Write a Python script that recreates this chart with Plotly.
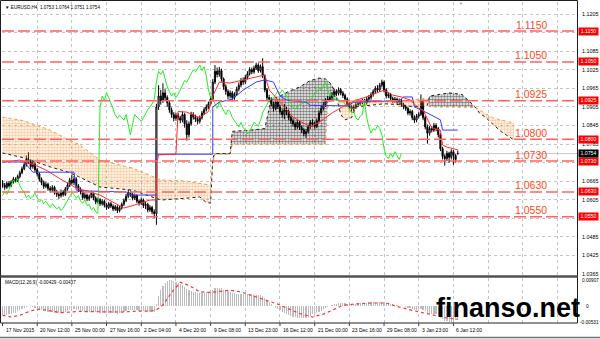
import plotly.graph_objects as go

W, H = 600, 339

# ---------------- data (EURUSD H4, bar 0 = 17 Nov 2015) ----------------
opens = [
    1.0660, 1.0652, 1.0645, 1.0658, 1.0650, 1.0662, 1.0671, 1.0666, 1.0680, 1.0692,
    1.0705, 1.0718, 1.0735, 1.0728, 1.0712, 1.0720, 1.0702, 1.0688, 1.0671, 1.0660,
    1.0648, 1.0655, 1.0641, 1.0636, 1.0645, 1.0630, 1.0622, 1.0618, 1.0630, 1.0622,
    1.0640, 1.0652, 1.0668, 1.0660, 1.0672, 1.0650, 1.0638, 1.0630, 1.0612, 1.0620,
    1.0608, 1.0615, 1.0626, 1.0610, 1.0598, 1.0605, 1.0592, 1.0600, 1.0588, 1.0580,
    1.0592, 1.0584, 1.0575, 1.0582, 1.0570, 1.0578, 1.0590, 1.0602, 1.0616, 1.0628,
    1.0622, 1.0610, 1.0618, 1.0600, 1.0594, 1.0604, 1.0586, 1.0590, 1.0572, 1.0580,
    1.0566, 1.0560, 1.0905, 1.0940, 1.0925, 1.0950, 1.0935, 1.0918, 1.0895, 1.0880,
    1.0868, 1.0878, 1.0870, 1.0862, 1.0880, 1.0850, 1.0815, 1.0850, 1.0880, 1.0872,
    1.0865, 1.0858, 1.0870, 1.0885, 1.0896, 1.0905, 1.0915, 1.0930, 1.0985, 1.1020,
    1.1010, 1.1022, 1.0995, 1.0970, 1.0955, 1.0940, 1.0950, 1.0935, 1.0945, 1.0962,
    1.0975, 1.0990, 1.0985, 1.1000, 1.1012, 1.1025, 1.1018, 1.1030, 1.1040, 1.1022,
    1.1035, 1.1005, 1.0960, 1.0935, 1.0930, 1.0915, 1.0900, 1.0920, 1.0905, 1.0890,
    1.0880, 1.0895, 1.0890, 1.0870, 1.0860, 1.0850, 1.0840, 1.0855, 1.0838, 1.0830,
    1.0818, 1.0825, 1.0840, 1.0855, 1.0850, 1.0842, 1.0860, 1.0885, 1.0900, 1.0912,
    1.0925, 1.0930, 1.0935, 1.0945, 1.0955, 1.0948, 1.0960, 1.0950, 1.0942, 1.0930,
    1.0915, 1.0905, 1.0898, 1.0905, 1.0912, 1.0915, 1.0920, 1.0925, 1.0918, 1.0930,
    1.0935, 1.0945, 1.0955, 1.0965, 1.0960, 1.0975, 1.0985, 1.0960, 1.0940, 1.0945,
    1.0932, 1.0925, 1.0930, 1.0920, 1.0925, 1.0912, 1.0905, 1.0900, 1.0885, 1.0890,
    1.0870, 1.0862, 1.0875, 1.0880, 1.0925, 1.0870, 1.0840, 1.0820, 1.0835, 1.0830,
    1.0845, 1.0835, 1.0815, 1.0770, 1.0745, 1.0738, 1.0755, 1.0742, 1.0760, 1.0748,
    1.0753,
]
highs = [
    1.0668, 1.0659, 1.0664, 1.0665, 1.0668, 1.0679, 1.0677, 1.0686, 1.0699, 1.0712,
    1.0726, 1.0748, 1.0758, 1.0736, 1.0730, 1.0726, 1.0708, 1.0694, 1.0677, 1.0667,
    1.0663, 1.0660, 1.0649, 1.0652, 1.0650, 1.0637, 1.0630, 1.0638, 1.0636, 1.0646,
    1.0660, 1.0676, 1.0686, 1.0682, 1.0678, 1.0656, 1.0645, 1.0636, 1.0628, 1.0625,
    1.0622, 1.0634, 1.0631, 1.0616, 1.0612, 1.0610, 1.0607, 1.0605, 1.0594, 1.0598,
    1.0598, 1.0590, 1.0588, 1.0587, 1.0585, 1.0596, 1.0609, 1.0624, 1.0638, 1.0635,
    1.0628, 1.0625, 1.0623, 1.0606, 1.0612, 1.0609, 1.0598, 1.0595, 1.0588, 1.0585,
    1.0574, 1.0915, 1.0975, 1.0960, 1.0981, 1.0962, 1.0942, 1.0925, 1.0903, 1.0888,
    1.0886, 1.0885, 1.0876, 1.0890, 1.0885, 1.0862, 1.0858, 1.0889, 1.0888, 1.0880,
    1.0872, 1.0877, 1.0892, 1.0904, 1.0913, 1.0922, 1.0940, 1.0995, 1.1040, 1.1032,
    1.1034, 1.1028, 1.1000, 1.0978, 1.0962, 1.0958, 1.0956, 1.0952, 1.0970, 1.0984,
    1.0998, 1.1000, 1.1008, 1.1020, 1.1033, 1.1032, 1.1038, 1.1048, 1.1046, 1.1042,
    1.1062, 1.1010, 1.0966, 1.0944, 1.0936, 1.0922, 1.0928, 1.0926, 1.0912, 1.0897,
    1.0915, 1.0905, 1.0896, 1.0877, 1.0868, 1.0857, 1.0862, 1.0860, 1.0845, 1.0836,
    1.0833, 1.0848, 1.0862, 1.0865, 1.0858, 1.0868, 1.0893, 1.0908, 1.0920, 1.0933,
    1.0940, 1.0944, 1.0953, 1.0963, 1.0962, 1.0968, 1.0966, 1.0956, 1.0948, 1.0936,
    1.0921, 1.0912, 1.0912, 1.0920, 1.0922, 1.0928, 1.0932, 1.0931, 1.0937, 1.0943,
    1.0952, 1.0962, 1.0972, 1.0975, 1.0982, 1.0993, 1.0990, 1.0965, 1.0953, 1.0950,
    1.0938, 1.0937, 1.0935, 1.0932, 1.0930, 1.0918, 1.0912, 1.0906, 1.0897, 1.0895,
    1.0878, 1.0882, 1.0888, 1.0945, 1.0932, 1.0876, 1.0848, 1.0843, 1.0842, 1.0853,
    1.0852, 1.0840, 1.0820, 1.0776, 1.0752, 1.0763, 1.0760, 1.0768, 1.0766, 1.0753,
    1.0764,
]
lows = [
    1.0644, 1.0637, 1.0640, 1.0644, 1.0646, 1.0657, 1.0660, 1.0662, 1.0674, 1.0687,
    1.0700, 1.0712, 1.0720, 1.0704, 1.0705, 1.0695, 1.0680, 1.0664, 1.0652, 1.0640,
    1.0642, 1.0634, 1.0628, 1.0630, 1.0622, 1.0614, 1.0608, 1.0612, 1.0615, 1.0617,
    1.0634, 1.0646, 1.0654, 1.0652, 1.0643, 1.0630, 1.0622, 1.0605, 1.0606, 1.0600,
    1.0601, 1.0610, 1.0603, 1.0590, 1.0592, 1.0585, 1.0586, 1.0580, 1.0572, 1.0575,
    1.0578, 1.0568, 1.0569, 1.0562, 1.0564, 1.0573, 1.0585, 1.0597, 1.0610, 1.0614,
    1.0603, 1.0604, 1.0594, 1.0586, 1.0588, 1.0578, 1.0575, 1.0564, 1.0566, 1.0558,
    1.0545, 1.0524, 1.0895, 1.0912, 1.0918, 1.0925, 1.0905, 1.0886, 1.0870, 1.0858,
    1.0860, 1.0862, 1.0852, 1.0855, 1.0838, 1.0796, 1.0806, 1.0844, 1.0864, 1.0856,
    1.0848, 1.0851, 1.0864, 1.0878, 1.0890, 1.0898, 1.0910, 1.0925, 1.0978, 1.1000,
    1.1002, 1.0986, 1.0960, 1.0944, 1.0930, 1.0932, 1.0926, 1.0928, 1.0940, 1.0955,
    1.0968, 1.0976, 1.0978, 1.0994, 1.1006, 1.1010, 1.1012, 1.1024, 1.1015, 1.1016,
    1.0998, 1.0952, 1.0926, 1.0920, 1.0906, 1.0890, 1.0894, 1.0898, 1.0880, 1.0870,
    1.0865, 1.0878, 1.0862, 1.0850, 1.0842, 1.0830, 1.0834, 1.0830, 1.0820, 1.0810,
    1.0805, 1.0818, 1.0834, 1.0842, 1.0835, 1.0836, 1.0855, 1.0878, 1.0893, 1.0905,
    1.0918, 1.0922, 1.0928, 1.0938, 1.0940, 1.0942, 1.0942, 1.0934, 1.0922, 1.0907,
    1.0896, 1.0888, 1.0890, 1.0898, 1.0905, 1.0908, 1.0913, 1.0910, 1.0912, 1.0923,
    1.0928, 1.0938, 1.0948, 1.0952, 1.0954, 1.0968, 1.0952, 1.0932, 1.0933, 1.0925,
    1.0917, 1.0918, 1.0912, 1.0913, 1.0905, 1.0897, 1.0892, 1.0878, 1.0877, 1.0862,
    1.0853, 1.0855, 1.0868, 1.0876, 1.0862, 1.0832, 1.0786, 1.0812, 1.0822, 1.0824,
    1.0826, 1.0806, 1.0762, 1.0735, 1.0715, 1.0730, 1.0724, 1.0735, 1.0718, 1.0725,
    1.0751,
]
closes = [
    1.0652, 1.0645, 1.0658, 1.0650, 1.0662, 1.0671, 1.0666, 1.0680, 1.0692, 1.0705,
    1.0718, 1.0735, 1.0728, 1.0712, 1.0720, 1.0702, 1.0688, 1.0671, 1.0660, 1.0648,
    1.0655, 1.0641, 1.0636, 1.0645, 1.0630, 1.0622, 1.0618, 1.0630, 1.0622, 1.0640,
    1.0652, 1.0668, 1.0660, 1.0672, 1.0650, 1.0638, 1.0630, 1.0612, 1.0620, 1.0608,
    1.0615, 1.0626, 1.0610, 1.0598, 1.0605, 1.0592, 1.0600, 1.0588, 1.0580, 1.0592,
    1.0584, 1.0575, 1.0582, 1.0570, 1.0578, 1.0590, 1.0602, 1.0616, 1.0628, 1.0622,
    1.0610, 1.0618, 1.0600, 1.0594, 1.0604, 1.0586, 1.0590, 1.0572, 1.0580, 1.0566,
    1.0560, 1.0905, 1.0940, 1.0925, 1.0950, 1.0935, 1.0918, 1.0895, 1.0880, 1.0868,
    1.0878, 1.0870, 1.0862, 1.0880, 1.0850, 1.0815, 1.0850, 1.0880, 1.0872, 1.0865,
    1.0858, 1.0870, 1.0885, 1.0896, 1.0905, 1.0915, 1.0930, 1.0985, 1.1020, 1.1010,
    1.1022, 1.0995, 1.0970, 1.0955, 1.0940, 1.0950, 1.0935, 1.0945, 1.0962, 1.0975,
    1.0990, 1.0985, 1.1000, 1.1012, 1.1025, 1.1018, 1.1030, 1.1040, 1.1022, 1.1035,
    1.1005, 1.0960, 1.0935, 1.0930, 1.0915, 1.0900, 1.0920, 1.0905, 1.0890, 1.0880,
    1.0895, 1.0890, 1.0870, 1.0860, 1.0850, 1.0840, 1.0855, 1.0838, 1.0830, 1.0818,
    1.0825, 1.0840, 1.0855, 1.0850, 1.0842, 1.0860, 1.0885, 1.0900, 1.0912, 1.0925,
    1.0930, 1.0935, 1.0945, 1.0955, 1.0948, 1.0960, 1.0950, 1.0942, 1.0930, 1.0915,
    1.0905, 1.0898, 1.0905, 1.0912, 1.0915, 1.0920, 1.0925, 1.0918, 1.0930, 1.0935,
    1.0945, 1.0955, 1.0965, 1.0960, 1.0975, 1.0985, 1.0960, 1.0940, 1.0945, 1.0932,
    1.0925, 1.0930, 1.0920, 1.0925, 1.0912, 1.0905, 1.0900, 1.0885, 1.0890, 1.0870,
    1.0862, 1.0875, 1.0880, 1.0925, 1.0870, 1.0840, 1.0820, 1.0835, 1.0830, 1.0845,
    1.0835, 1.0815, 1.0770, 1.0745, 1.0738, 1.0755, 1.0742, 1.0760, 1.0748, 1.0735,
    1.0754,
]
bars = list(range(len(closes)))

# Ichimoku lines (bar index, price)
tenkan_idx = [0, 8, 15, 20, 26, 34, 45, 50, 56, 61, 68, 71, 71, 72, 80, 81, 85, 91, 95, 97,
              100, 105, 111, 117, 121, 123, 127, 131, 134, 142, 146, 152, 158, 163, 167, 176,
              180, 184, 188, 192, 194, 198, 202, 203, 205, 210]
tenkan_val = [1.0727, 1.0733, 1.0717, 1.0701, 1.0675, 1.0643, 1.0620, 1.0600, 1.0578, 1.0588,
              1.0604, 1.0604, 1.0720, 1.0750, 1.0752, 1.0890, 1.0888, 1.0870, 1.0890, 1.0940,
              1.0985, 1.0982, 1.0992, 1.1001, 1.1008, 1.0960, 1.0927, 1.0895, 1.0872, 1.0840,
              1.0855, 1.0885, 1.0910, 1.0927, 1.0935, 1.0959, 1.0943, 1.0937, 1.0927, 1.0901,
              1.0895, 1.0837, 1.0830, 1.0782, 1.0775, 1.0766]
kijun_idx = [0, 10, 14, 33, 34, 40, 57, 60, 71, 71, 97, 97, 100, 106, 111, 117, 121, 125, 128,
             131, 140, 142, 159, 162, 183, 185, 189, 190, 196, 200, 202, 203, 210]
kijun_val = [1.0727, 1.0727, 1.0694, 1.0694, 1.0636, 1.0633, 1.0630, 1.0620, 1.0620, 1.0752,
             1.0752, 1.0905, 1.0920, 1.0930, 1.0959, 1.0985, 1.0992, 1.0985, 1.0940, 1.0927,
             1.0920, 1.0910, 1.0908, 1.0920, 1.0925, 1.0937, 1.0937, 1.0905, 1.0885, 1.0870,
             1.0863, 1.0830, 1.0830]
cloud_idx = [0, 10, 22, 30, 35, 45, 60, 73, 85, 91, 94, 96, 97, 98, 105, 106, 115, 121, 123, 124,
             128, 132, 137, 142, 146, 149, 150, 152, 154, 156, 158, 161, 163, 170, 176, 183, 190,
             196, 197, 206, 212, 215, 218, 220, 223, 226, 230, 236]
span_a = [1.0756, 1.0740, 1.0711, 1.0695, 1.0680, 1.0646, 1.0636, 1.0604, 1.0610, 1.0614,
          1.0596, 1.0594, 1.0740, 1.0754, 1.0754, 1.0826, 1.0830, 1.0835, 1.0900, 1.0930,
          1.0940, 1.0955, 1.0969, 1.0990, 1.0998, 1.0995, 1.0990, 1.0975, 1.0940, 1.0880,
          1.0863, 1.0870, 1.0905, 1.0910, 1.0915, 1.0912, 1.0905, 1.0910, 1.0940, 1.0950,
          1.0945, 1.0925, 1.0905, 1.0885, 1.0870, 1.0850, 1.0825, 1.0798]
span_b = [1.0872, 1.0860, 1.0830, 1.0800, 1.0785, 1.0733, 1.0707, 1.0669, 1.0665, 1.0659,
          1.0655, 1.0652, 1.0720, 1.0752, 1.0752, 1.0784, 1.0784, 1.0784, 1.0784, 1.0784,
          1.0784, 1.0784, 1.0784, 1.0784, 1.0784, 1.0784, 1.0925, 1.0925, 1.0925, 1.0925,
          1.0925, 1.0925, 1.0922, 1.0920, 1.0922, 1.0925, 1.0928, 1.0930, 1.0905, 1.0905,
          1.0905, 1.0905, 1.0903, 1.0895, 1.0882, 1.0870, 1.0862, 1.0853]
CHIKOU_SHIFT = 26

# MACD(12,26,9)
macd_main = [
    -0.0029, -0.0028, -0.0029, -0.0027, -0.0025, -0.0023, -0.0021, -0.0017, -0.0013, -0.0009,
    -0.0005, -0.0002, 0.0001, 0.0000, -0.0002, -0.0004, -0.0007, -0.0010, -0.0013, -0.0016,
    -0.0017, -0.0019, -0.0020, -0.0020, -0.0021, -0.0022, -0.0022, -0.0021, -0.0020, -0.0018,
    -0.0015, -0.0012, -0.0011, -0.0010, -0.0011, -0.0013, -0.0015, -0.0017, -0.0018, -0.0019,
    -0.0019, -0.0018, -0.0019, -0.0020, -0.0020, -0.0021, -0.0021, -0.0021, -0.0022, -0.0022,
    -0.0022, -0.0023, -0.0023, -0.0024, -0.0023, -0.0022, -0.0019, -0.0016, -0.0013, -0.0012,
    -0.0012, -0.0012, -0.0013, -0.0014, -0.0014, -0.0015, -0.0016, -0.0017, -0.0018, -0.0019,
    -0.0020, 0.0008, 0.0035, 0.0055, 0.0071, 0.0081, 0.0087, 0.0090, 0.0091, 0.0088,
    0.0084, 0.0080, 0.0076, 0.0072, 0.0068, 0.0060, 0.0056, 0.0054, 0.0051, 0.0049,
    0.0047, 0.0046, 0.0046, 0.0047, 0.0048, 0.0050, 0.0052, 0.0058, 0.0063, 0.0063,
    0.0064, 0.0062, 0.0058, 0.0055, 0.0052, 0.0050, 0.0047, 0.0045, 0.0044, 0.0044,
    0.0044, 0.0043, 0.0043, 0.0042, 0.0042, 0.0041, 0.0041, 0.0041, 0.0038, 0.0038,
    0.0035, 0.0028, 0.0020, 0.0014, 0.0008, 0.0002, -0.0004, -0.0008, -0.0013, -0.0018,
    -0.0022, -0.0026, -0.0030, -0.0033, -0.0035, -0.0037, -0.0038, -0.0038, -0.0039, -0.0039,
    -0.0038, -0.0035, -0.0031, -0.0027, -0.0024, -0.0021, -0.0018, -0.0014, -0.0010, -0.0006,
    -0.0002, 0.0002, 0.0005, 0.0008, 0.0010, 0.0012, 0.0012, 0.0012, 0.0011, 0.0009,
    0.0008, 0.0007, 0.0008, 0.0009, 0.0010, 0.0011, 0.0012, 0.0013, 0.0013, 0.0014,
    0.0014, 0.0015, 0.0016, 0.0016, 0.0017, 0.0017, 0.0015, 0.0013, 0.0011, 0.0009,
    0.0008, 0.0006, 0.0005, 0.0003, 0.0001, 0.0000, -0.0002, -0.0004, -0.0006, -0.0009,
    -0.0011, -0.0012, -0.0011, -0.0008, -0.0012, -0.0017, -0.0022, -0.0024, -0.0025, -0.0026,
    -0.0027, -0.0030, -0.0037, -0.0044, -0.0049, -0.0051, -0.0053, -0.0052, -0.0050, -0.0047,
    -0.0043,
]
signal_idx = [0, 4, 8, 13, 17, 22, 27, 35, 45, 55, 62, 68, 71, 74, 78, 82, 86, 91, 96, 100,
              105, 110, 116, 122, 127, 131, 137, 143, 148, 153, 157, 163, 170, 177, 183, 190,
              197, 204, 210]
signal_val = [-0.0030, -0.0036, -0.0030, -0.0015, -0.0009, -0.0014, -0.0021, -0.0017, -0.0019,
              -0.0019, -0.0016, -0.0016, -0.0012, 0.0005, 0.0048, 0.0083, 0.0072, 0.0050, 0.0048,
              0.0052, 0.0056, 0.0050, 0.0036, 0.0022, 0.0008, -0.0005, -0.0024, -0.0036, -0.0026,
              -0.0010, 0.0004, 0.0009, 0.0012, 0.0012, -0.0002, -0.0015, -0.0027, -0.0038, -0.0044]

# horizontal levels
levels = [1.1150, 1.1050, 1.0925, 1.0800, 1.0730, 1.0630, 1.0550]
level_text = ["1.1150", "1.1050", "1.0925", "1.0800", "1.0730", "1.0630", "1.0550"]
last_price = 1.0754
last_text = "1.0754"

# axes
price_grid = [1.1205, 1.1145, 1.1085, 1.1025, 1.0965, 1.0905, 1.0845, 1.0785, 1.0725,
              1.0665, 1.0605, 1.0545, 1.0485, 1.0425, 1.0365]
price_grid_text = ["1.1205", "", "1.1085", "1.1025", "1.0965", "1.0905", "1.0845", "1.0785", "",
                   "1.0665", "1.0605", "", "1.0485", "1.0425", "1.0365"]
date_idx = [0, 16, 32, 48, 64, 80, 96, 112, 128, 144, 160, 176, 192, 208]
date_text = ["17 Nov 2015", "20 Nov 12:00", "25 Nov 00:00", "27 Nov 16:00", "2 Dec 04:00",
             "4 Dec 20:00", "9 Dec 08:00", "13 Dec 23:00", "16 Dec 12:00", "21 Dec 00:00",
             "23 Dec 16:00", "29 Dec 08:00", "3 Jan 23:00", "6 Jan 12:00"]
vgrid_idx = [0, 16, 32, 48, 64, 80, 96, 112, 128, 144, 160, 176, 192, 208, 224, 240, 256]
macd_axis_vals = [0.00907, 0.0, -0.00531]
macd_axis_text = ["0.00907", "0", "-0.00531"]
title_text = "▼ EURUSD,H4  1.0753 1.0764 1.0751 1.0754"
macd_title = "MACD(12,26,9) -0.00429 -0.00437"
watermark = "finanso.net"

# ---------------- layout geometry ----------------
def px(x):
    return x / W


def py(y):
    return 1 - y / H


X_RANGE = [-0.23, 265.0]
MAIN_TOP, MAIN_BOT = 2, 275
MACD_TOP, MACD_BOT = 278, 323
Y_RANGE = [1.036177, 1.124377]
Y2_RANGE = [-0.005652, 0.009755]
FONT = "Liberation Sans, Arial, sans-serif"

fig = go.Figure()


def cloud_polys(xs, a, b):
    pts = []
    for k in range(len(xs)):
        if k:
            d0 = a[k - 1] - b[k - 1]
            d1 = a[k] - b[k]
            if d0 * d1 < 0:
                t = d0 / (d0 - d1)
                xc = xs[k - 1] + t * (xs[k] - xs[k - 1])
                yc = a[k - 1] + t * (a[k] - a[k - 1])
                pts.append((xc, yc, yc))
        pts.append((xs[k], a[k], b[k]))
    runs, cur = [], []
    for p in pts:
        cur.append(p)
        if p[1] == p[2] and len(cur) > 1:
            runs.append(cur)
            cur = [p]
    if len(cur) > 1:
        runs.append(cur)
    out = []
    for r in runs:
        s = sum(p[1] - p[2] for p in r)
        xx = [p[0] for p in r] + [p[0] for p in reversed(r)]
        yy = [p[1] for p in r] + [p[2] for p in reversed(r)]
        out.append((s > 0, xx, yy))
    return out


for bull, xx, yy in cloud_polys(cloud_idx, span_a, span_b):
    col = "#000000" if bull else "#F39A45"
    fig.add_trace(go.Scatter(
        x=xx, y=yy, mode="lines", line=dict(width=0), fill="toself",
        fillcolor="rgba(0,0,0,0)",
        fillpattern=dict(shape=".", fgcolor=col, bgcolor="rgba(0,0,0,0)", size=3, solidity=0.6),
        hoverinfo="skip", showlegend=False, xaxis="x", yaxis="y"))

fig.add_trace(go.Scatter(x=cloud_idx, y=span_b, mode="lines",
                         line=dict(color="#F39A45", width=1, dash="dot"),
                         showlegend=False, xaxis="x", yaxis="y"))
fig.add_trace(go.Scatter(x=cloud_idx, y=span_a, mode="lines",
                         line=dict(color="#202020", width=1, dash="dot"),
                         showlegend=False, xaxis="x", yaxis="y"))

fig.add_trace(go.Candlestick(
    x=bars, open=opens, high=highs, low=lows, close=closes,
    increasing=dict(line=dict(color="#000000", width=1), fillcolor="#ffffff"),
    decreasing=dict(line=dict(color="#000000", width=1), fillcolor="#000000"),
    whiskerwidth=0, showlegend=False, xaxis="x", yaxis="y"))

fig.add_trace(go.Scatter(x=bars[:len(closes) - CHIKOU_SHIFT], y=closes[CHIKOU_SHIFT:],
                         mode="lines", line=dict(color="#22ee22", width=1),
                         showlegend=False, xaxis="x", yaxis="y"))
fig.add_trace(go.Scatter(x=kijun_idx, y=kijun_val, mode="lines",
                         line=dict(color="#3838ff", width=1),
                         showlegend=False, xaxis="x", yaxis="y"))
fig.add_trace(go.Scatter(x=tenkan_idx, y=tenkan_val, mode="lines",
                         line=dict(color="#ff2a2a", width=1),
                         showlegend=False, xaxis="x", yaxis="y"))

# MACD pane
fig.add_trace(go.Bar(x=bars, y=macd_main, marker=dict(color="#bdbdbd", line=dict(width=0)),
                     width=0.55, showlegend=False, xaxis="x2", yaxis="y2"))
fig.add_trace(go.Scatter(x=signal_idx, y=signal_val, mode="lines",
                         line=dict(color="#ff3030", width=1.2, dash="dot"),
                         showlegend=False, xaxis="x2", yaxis="y2"))

shapes = []
shapes.append(dict(type="line", xref="paper", yref="y", x0=px(2), x1=px(577),
                   y0=last_price, y1=last_price, line=dict(color="#c8c8c8", width=1), layer="below"))
for lv in levels:
    shapes.append(dict(type="line", xref="paper", yref="y", x0=px(2), x1=px(577),
                       y0=lv, y1=lv, line=dict(color="#ff6262", width=1.5, dash="12px,4px"),
                       layer="above"))
shapes.append(dict(type="rect", xref="paper", yref="paper", x0=px(0.5), x1=px(577.5),
                   y0=py(323), y1=py(0.5), line=dict(color="#202020", width=1)))
shapes.append(dict(type="line", xref="paper", yref="paper", x0=px(0.5), x1=px(577.5),
                   y0=py(276.5), y1=py(276.5), line=dict(color="#505050", width=2.5)))
shapes.append(dict(type="line", xref="paper", yref="paper", x0=0, x1=1,
                   y0=py(337.5), y1=py(337.5), line=dict(color="#707070", width=1.5)))
for d in date_idx:
    shapes.append(dict(type="line", xref="x", yref="paper", x0=d, x1=d,
                       y0=py(323), y1=py(326), line=dict(color="#404040", width=1)))

ann = []
ann.append(dict(text=title_text, xref="paper", yref="paper", x=px(3), y=py(7.5),
                xanchor="left", yanchor="middle", showarrow=False,
                font=dict(family=FONT, size=4.6, color="#000")))
ann.append(dict(text="▼", xref="paper", yref="paper", x=px(461), y=py(3),
                xanchor="center", yanchor="middle", showarrow=False,
                font=dict(family=FONT, size=4, color="#909090")))
ann.append(dict(text=macd_title, xref="paper", yref="paper", x=px(3), y=py(282.5),
                xanchor="left", yanchor="middle", showarrow=False,
                font=dict(family=FONT, size=4.6, color="#000")))
for v, t in zip(price_grid, price_grid_text):
    if t:
        ann.append(dict(text=t, xref="paper", yref="y", x=px(580), y=v, xanchor="left",
                        yanchor="middle", showarrow=False,
                        font=dict(family=FONT, size=5.4, color="#000")))
for lv, t in zip(levels, level_text):
    ann.append(dict(text=t, xref="paper", yref="y", x=px(531), y=lv, xanchor="center",
                    yanchor="middle", yshift=6.5, showarrow=False,
                    font=dict(family=FONT, size=10.5, color="#ff4a1a")))
    ann.append(dict(text=t, xref="paper", yref="y", x=px(578), y=lv, xanchor="left",
                    yanchor="middle", showarrow=False, bgcolor="#ff0000", borderpad=0,
                    width=19, height=6.5, align="center",
                    font=dict(family=FONT, size=5.2, color="#ffffff")))
ann.append(dict(text=last_text, xref="paper", yref="y", x=px(578), y=last_price, xanchor="left",
                yanchor="middle", showarrow=False, bgcolor="#000000", borderpad=0,
                width=19, height=6.5, align="center",
                font=dict(family=FONT, size=5.2, color="#ffffff")))
for d, t in zip(date_idx, date_text):
    ann.append(dict(text=t, xref="x", yref="paper", x=d, y=py(330), xanchor="left",
                    yanchor="middle", xshift=1, showarrow=False,
                    font=dict(family=FONT, size=5.0, color="#000")))
macd_lbl_x = [580, 584, 578]
for v, t, lx in zip(macd_axis_vals, macd_axis_text, macd_lbl_x):
    ann.append(dict(text=t, xref="paper", yref="y2", x=px(lx), y=v, xanchor="left",
                    yanchor="middle", showarrow=False,
                    font=dict(family=FONT, size=4.7, color="#000")))
ann.append(dict(text="<b>" + watermark + "</b>", xref="paper", yref="paper", x=px(582), y=py(307.5),
                xanchor="right", yanchor="middle", showarrow=False,
                font=dict(family=FONT, size=27, color="#000")))

axis_common = dict(range=X_RANGE, domain=[px(2), px(577)], tickvals=vgrid_idx,
                   showticklabels=False, ticks="", showgrid=True, gridcolor="#c4c4c4",
                   griddash="dot", gridwidth=1, zeroline=False, showline=False, fixedrange=True)

fig.update_layout(
    width=W, height=H, autosize=False,
    margin=dict(l=0, r=0, t=0, b=0, pad=0),
    paper_bgcolor="#ffffff", plot_bgcolor="#ffffff",
    showlegend=False, bargap=0,
    xaxis=dict(**axis_common, anchor="y", rangeslider=dict(visible=False)),
    xaxis2=dict(**axis_common, anchor="y2", matches="x"),
    yaxis=dict(range=Y_RANGE, domain=[py(MAIN_BOT), py(MAIN_TOP)], tickvals=price_grid,
               showticklabels=False, ticks="", showgrid=True, gridcolor="#c4c4c4",
               griddash="dot", zeroline=False, anchor="x", fixedrange=True),
    yaxis2=dict(range=Y2_RANGE, domain=[py(MACD_BOT), py(MACD_TOP)], showticklabels=False,
                ticks="", showgrid=False, zeroline=False, anchor="x2", fixedrange=True),
    shapes=shapes, annotations=ann,
)

fig.write_html("out.html", config={"displayModeBar": False, "staticPlot": True})
